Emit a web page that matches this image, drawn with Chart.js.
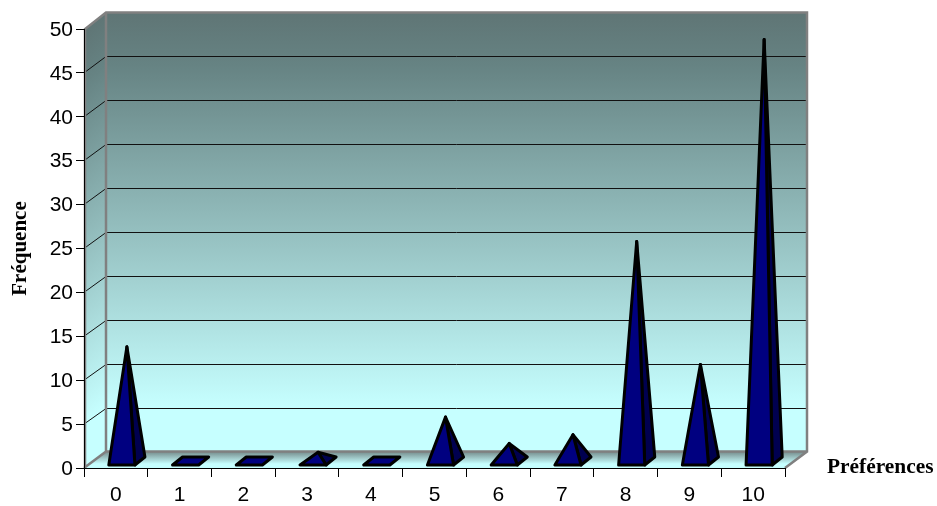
<!DOCTYPE html>
<html>
<head>
<meta charset="utf-8">
<script src="https://cdn.jsdelivr.net/npm/chart.js@4"></script>
<style>
  html, body { margin: 0; padding: 0; background: #fff; }
  #box { width: 937px; height: 506px; }
</style>
</head>
<body>
<div id="box"><canvas id="chart" width="937" height="506"></canvas></div>
<script>
// ===== Data =====
const preferences = ['0', '1', '2', '3', '4', '5', '6', '7', '8', '9', '10'];
const frequencies = [13, 0, 0, 1, 0, 5, 2, 3, 25, 11, 48];
const yLabel = 'Fréquence';
const xLabel = 'Préférences';

// ===== 3D look =====
const DEPTH_X = 22, DEPTH_Y = 16.5;    // back wall offset
const BASE_DX = 10, BASE_DY = 8;       // pyramid base depth
const WALL_EDGE = '#808080';

function wallGradient(ctx, top, bottom) {
  const g = ctx.createLinearGradient(0, top, 0, bottom);
  g.addColorStop(0, '#5f7575');
  g.addColorStop(0.12, '#668383');
  g.addColorStop(0.9, '#c6ffff');
  g.addColorStop(1, '#c6ffff');
  return g;
}

const walls = {
  id: 'walls',
  beforeDraw(chart) {
    const { ctx, chartArea: a, scales: { y } } = chart;
    const L = a.left, R = a.right, T = a.top, B = a.bottom;
    const dx = DEPTH_X, dy = DEPTH_Y;
    ctx.save();

    // back wall
    ctx.fillStyle = wallGradient(ctx, T - dy, B - dy);
    ctx.fillRect(L + dx, T - dy, R - L, B - T);

    // side wall, gradient skewed along the depth
    ctx.save();
    ctx.transform(1, -dy / dx, 0, 1, L, 0);
    ctx.fillStyle = wallGradient(ctx, T, B);
    ctx.fillRect(0, T, dx, B - T);
    ctx.restore();

    // floor
    const floor = ctx.createLinearGradient(0, B - dy, 0, B);
    floor.addColorStop(0, '#748a8a');
    floor.addColorStop(0.75, '#c6ffff');
    floor.addColorStop(1, '#c6ffff');
    ctx.fillStyle = floor;
    ctx.beginPath();
    ctx.moveTo(L, B);
    ctx.lineTo(L + dx, B - dy);
    ctx.lineTo(R + dx, B - dy);
    ctx.lineTo(R, B);
    ctx.closePath();
    ctx.fill();

    // grid lines on back and side wall
    ctx.strokeStyle = '#111';
    ctx.lineWidth = 1;
    y.ticks.forEach(t => {
      if (t.value === y.min || t.value === y.max) return;
      const py = y.getPixelForValue(t.value);
      const back = Math.round(py - dy) + 0.5;
      ctx.beginPath();
      ctx.moveTo(L, py);
      ctx.lineTo(L + dx, back);
      ctx.lineTo(R + dx, back);
      ctx.stroke();
    });

    // wall edges
    ctx.strokeStyle = WALL_EDGE;
    ctx.lineWidth = 2.5;
    ctx.lineJoin = 'miter';
    ctx.beginPath();
    ctx.moveTo(L + 1, B);
    ctx.lineTo(L + 1, T);
    ctx.lineTo(L + dx, T - dy);
    ctx.lineTo(R + dx, T - dy);
    ctx.lineTo(R + dx, B - dy);
    ctx.lineTo(R, B);
    ctx.moveTo(L + dx, T - dy);
    ctx.lineTo(L + dx, B - dy);
    ctx.lineTo(R + dx, B - dy);
    ctx.moveTo(L + dx, B - dy);
    ctx.lineTo(L, B);
    ctx.stroke();
    ctx.restore();
  }
};

// Draws each bar of the dataset as a pyramid, from the bar's own geometry
const pyramids = {
  id: 'pyramids',
  afterDatasetsDraw(chart) {
    const { ctx, chartArea: a } = chart;
    const bars = chart.getDatasetMeta(0).data;
    ctx.save();
    ctx.lineWidth = 3;
    ctx.lineJoin = 'round';
    ctx.strokeStyle = '#000';

    function poly(points, fill) {
      ctx.beginPath();
      points.forEach((p, i) => i ? ctx.lineTo(p[0], p[1]) : ctx.moveTo(p[0], p[1]));
      ctx.closePath();
      ctx.fillStyle = fill;
      ctx.fill();
      ctx.stroke();
    }

    bars.forEach((bar, i) => {
      const half = bar.width / 2;
      const cx = bar.x + 6;
      const y0 = a.bottom - 3;
      const fl = [cx - half, y0], fr = [cx + half, y0];
      const br = [cx + half + BASE_DX, y0 - BASE_DY];
      const bl = [cx - half + BASE_DX, y0 - BASE_DY];
      if (frequencies[i] === 0) {
        poly([fl, fr, br, bl], '#000080');
        return;
      }
      const apex = [cx + BASE_DX / 2, bar.y - 7];
      poly([fr, br, apex], '#000050');
      poly([fl, fr, apex], '#000080');
    });

    // axis name at the right of the floor
    ctx.fillStyle = '#000';
    ctx.font = 'bold 21.4px "Liberation Serif"';
    ctx.textAlign = 'left';
    ctx.textBaseline = 'middle';
    ctx.fillText(xLabel, 827, a.bottom - 1);
    ctx.restore();
  }
};

// ===== Chart =====
new Chart(document.getElementById('chart'), {
  type: 'bar',
  data: {
    labels: preferences,
    datasets: [{
      data: frequencies,
      backgroundColor: 'transparent',
      borderWidth: 0,
      categoryPercentage: 1,
      barPercentage: 0.41
    }]
  },
  options: {
    responsive: false,
    animation: false,
    layout: { padding: { top: 29, right: 152, left: 0, bottom: 0 } },
    plugins: { legend: { display: false }, tooltip: { enabled: false } },
    scales: {
      x: {
        afterFit(s) { s.height = 38; },
        grid: { offset: true, drawOnChartArea: false, drawTicks: true, tickLength: 9, color: '#000' },
        border: { display: true, color: '#000' },
        ticks: { color: '#000', font: { family: '"Liberation Sans"', size: 21 }, padding: 6, maxRotation: 0 }
      },
      y: {
        min: 0,
        max: 50,
        afterFit(s) { s.width = 84; },
        grid: { drawOnChartArea: false, drawTicks: true, tickLength: 8, color: '#000' },
        border: { display: true, color: '#000' },
        title: {
          display: true,
          text: yLabel,
          color: '#000',
          font: { family: '"Liberation Serif"', size: 21, weight: 'bold' },
          padding: { top: 8, bottom: 0 }
        },
        ticks: { stepSize: 5, color: '#000', font: { family: '"Liberation Sans"', size: 21 }, padding: 3, labelOffset: 1 }
      }
    }
  },
  plugins: [walls, pyramids]
});
</script>
</body>
</html>
